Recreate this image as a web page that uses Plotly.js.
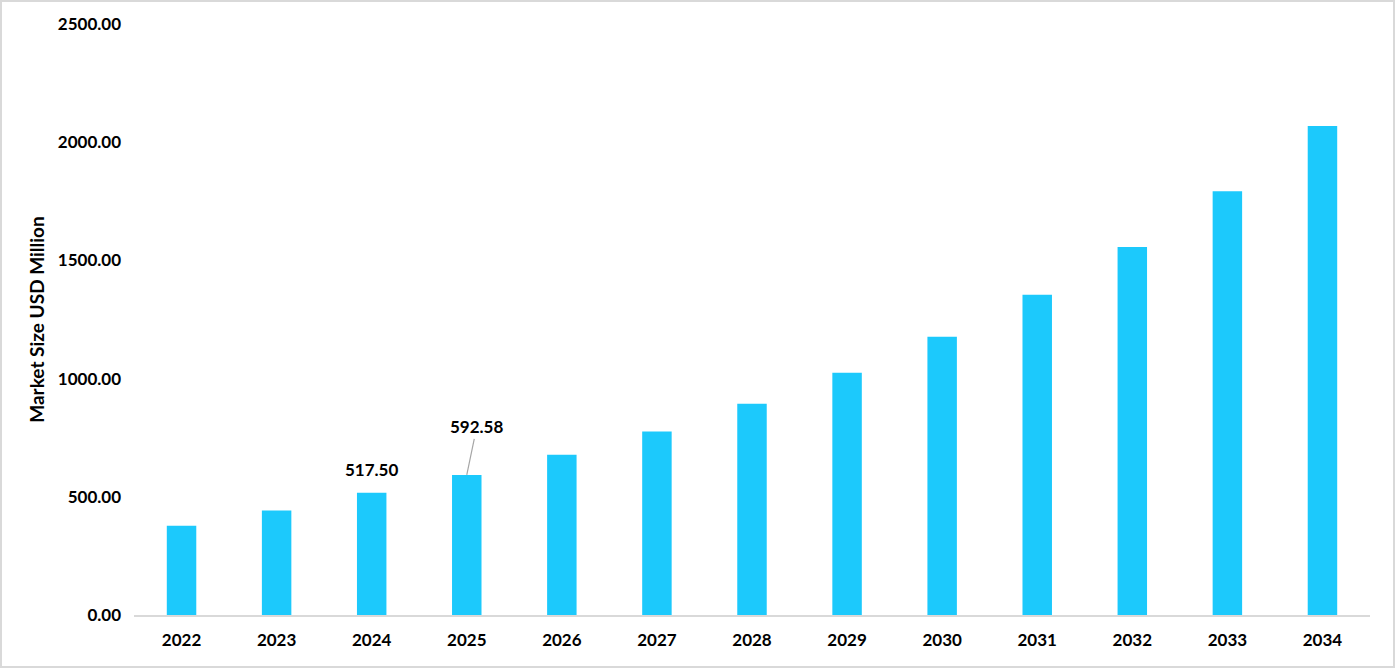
<!DOCTYPE html>
<html>
<head>
<meta charset="utf-8">
<script src="https://cdn.plot.ly/plotly-3.0.1.min.js"></script>
<style>
    html, body { margin: 0; padding: 0; background: #fff; }
    #wrap { position: relative; width: 1395px; height: 668px; }
    #chart { width: 1395px; height: 668px; }
    #frame {
        position: absolute; left: 0; top: 0;
        width: 1395px; height: 668px;
        box-sizing: border-box;
        border: 2px solid #d9d9d9;
        pointer-events: none;
    }
</style>
</head>
<body>
<div id="wrap">
    <div id="chart"></div>
    <div id="frame"></div>
</div>
<script>
// market size by year, USD million
const years = ['2022', '2023', '2024', '2025', '2026', '2027', '2028',
               '2029', '2030', '2031', '2032', '2033', '2034'];
const marketSize = [378, 442, 517.50, 592.58, 678, 776, 894,
                    1025, 1177, 1355, 1557, 1793, 2069];
const yTicks = [0, 500, 1000, 1500, 2000, 2500];
const yTickLabels = ['0.00', '500.00', '1000.00', '1500.00', '2000.00', '2500.00'];

const labelFont = {
    family: 'Lato, "Open Sans", sans-serif',
    size: 17,
    color: '#000',
    weight: 700
};

const data = [
    {
        x: years,
        y: marketSize,
        type: 'bar',
        width: 0.31,
        marker: { color: '#1cc9fc' },
        hoverinfo: 'x+y'
    }
];

const layout = {
    width: 1395,
    height: 668,
    margin: { t: 24, r: 25, b: 53, l: 134 },
    paper_bgcolor: '#fff',
    plot_bgcolor: '#fff',
    showlegend: false,
    font: labelFont,
    xaxis: {
        type: 'category',
        range: [-0.5, years.length - 0.5],
        showline: true,
        linecolor: '#d9d9d9',
        linewidth: 2,
        showgrid: false,
        ticks: '',
        ticklabelstandoff: 9,
        tickfont: labelFont,
        fixedrange: true
    },
    yaxis: {
        range: [0, 2500],
        tickvals: yTicks,
        ticktext: yTickLabels,
        showline: false,
        showgrid: false,
        zeroline: false,
        ticks: '',
        ticklabelstandoff: 12,
        tickfont: labelFont,
        title: {
            text: 'Market Size USD Million',
            font: Object.assign({}, labelFont, { size: 19 }),
            standoff: 8
        },
        fixedrange: true
    },
    annotations: [
        {
            x: 2,
            y: marketSize[2],
            text: marketSize[2].toFixed(2),
            showarrow: false,
            yanchor: 'bottom',
            yshift: 11,
            font: labelFont
        },
        {
            x: 3,
            y: marketSize[3],
            text: marketSize[3].toFixed(2),
            showarrow: true,
            arrowhead: 0,
            arrowwidth: 1.2,
            arrowcolor: '#a6a6a6',
            ax: 10,
            ay: -48,
            font: labelFont
        }
    ]
};

const config = {
    responsive: false,
    displayModeBar: false,
    staticPlot: true
};

Plotly.newPlot('chart', data, layout, config);
</script>
</body>
</html>
